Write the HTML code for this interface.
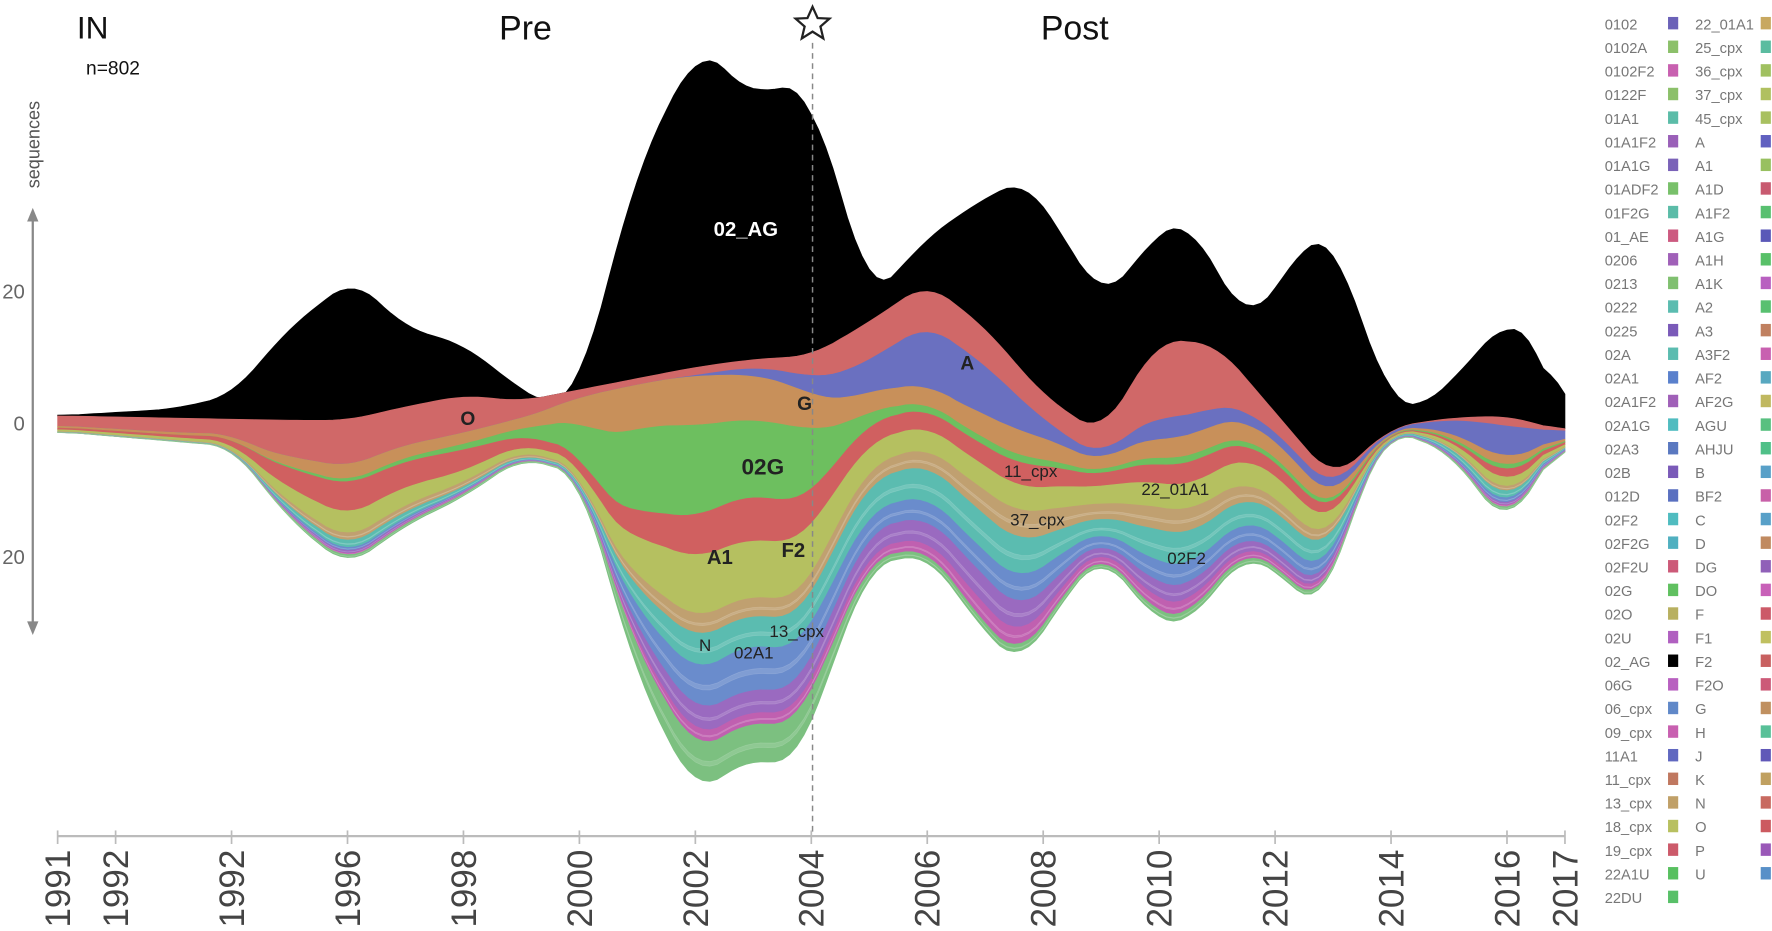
<!DOCTYPE html>
<html><head><meta charset="utf-8"><style>
html,body{margin:0;padding:0;background:#fff;}
svg{display:block;font-family:"Liberation Sans",sans-serif;}
</style></head><body>
<svg id="s" width="1772" height="931" viewBox="0 0 1568 824" preserveAspectRatio="none" xmlns="http://www.w3.org/2000/svg">
<g id="layers"></g>
<line x1="719" y1="38" x2="719" y2="740" stroke="#888" stroke-width="1.3" stroke-dasharray="5,4"/>
<polygon points="719,6 723.5,16 734,16.5 726,23.5 728.5,34 719,28 709.5,34 712,23.5 704,16.5 714.5,16" fill="none" stroke="#222" stroke-width="2"/>
<text x="82" y="34" font-size="28" text-anchor="middle" fill="#111">IN</text>
<text x="100" y="66" font-size="17" text-anchor="middle" fill="#111">n=802</text>
<text x="465" y="35" font-size="30" text-anchor="middle" fill="#111">Pre</text>
<text x="951" y="35" font-size="30" text-anchor="middle" fill="#111">Post</text>
<text transform="translate(35,128) rotate(-90)" font-size="16" text-anchor="middle" fill="#555">sequences</text>
<line x1="29" y1="192" x2="29" y2="553" stroke="#888" stroke-width="2"/>
<polygon points="29,184 24,196 34,196" fill="#888"/>
<polygon points="29,562 24,550 34,550" fill="#888"/>
<text x="22" y="264" font-size="18" text-anchor="end" fill="#666">20</text>
<text x="22" y="381" font-size="18" text-anchor="end" fill="#666">0</text>
<text x="22" y="499" font-size="18" text-anchor="end" fill="#666">20</text>
<line x1="51" y1="740" x2="1385" y2="740" stroke="#bbb" stroke-width="2"/>
<g id="ticks"></g>
<g id="labels" font-size="15" fill="#222" text-anchor="middle">
<text x="660" y="209" font-size="18" font-weight="bold" fill="#fff">02_AG</text>
<text x="414" y="376" font-size="17" font-weight="bold">O</text>
<text x="712" y="363" font-size="17" font-weight="bold">G</text>
<text x="675" y="420" font-size="20" font-weight="bold">02G</text>
<text x="856" y="327" font-size="17" font-weight="bold">A</text>
<text x="637" y="499" font-size="18" font-weight="bold">A1</text>
<text x="702" y="493" font-size="18" font-weight="bold">F2</text>
<text x="624" y="576">N</text>
<text x="667" y="583">02A1</text>
<text x="705" y="564">13_cpx</text>
<text x="912" y="422">11_cpx</text>
<text x="918" y="465">37_cpx</text>
<text x="1040" y="438">22_01A1</text>
<text x="1050" y="499">02F2</text>
</g>
<g id="legend" font-size="13" fill="#777"></g>
</svg>
<script>
const NS="http://www.w3.org/2000/svg";
const X=y=>51+(y-1991)*51.3;
function el(t,a,p,txt){const e=document.createElementNS(NS,t);for(const k in a)e.setAttribute(k,a[k]);if(txt!==undefined)e.textContent=txt;p.appendChild(e);return e;}
function interp(p,y){for(let i=0;i<p.length-1;i++){if(y<=p[i+1][0]){const t=(y-p[i][0])/(p[i+1][0]-p[i][0]);return p[i][1]+t*(p[i+1][1]-p[i][1]);}}return p[p.length-1][1];}
function smooth(a,n){for(let k=0;k<n;k++){const b=a.slice();for(let i=0;i<a.length;i++){let s=0,c=0;for(let j=-3;j<=3;j++){const q=i+j;if(q>=0&&q<a.length){s+=a[q];c++;}}b[i]=s/c;}a=b;}return a;}
const ys=[];for(let y=1991;y<=2017.0001;y+=0.125)ys.push(y);
const blackTop=[[1991,368],[1993,362],[1994,350],[1995,290],[1996.1,246],[1997,290],[1998,305],[1999,345],[1999.5,360],[2000,345],[2001,150],[2002,45],[2002.6,60],[2003,92],[2003.5,68],[2004,90],[2004.5,165],[2005,265],[2005.5,240],[2006,210],[2007,175],[2007.7,158],[2008.5,222],[2009,265],[2009.5,240],[2010,203],[2010.5,196],[2011,240],[2011.5,285],[2012,258],[2012.6,208],[2013,212],[2013.5,285],[2014,357],[2014.5,362],[2015,340],[2016,282],[2016.5,300],[2017,378]];
const Tp=[[1991,368],[1995,372],[1996,372],[1997,360],[1998,350],[1999,355],[2000,345],[2001,335],[2002,325],[2003,318],[2004,315],[2005,285],[2006,250],[2007,290],[2008,350],[2009,385],[2010,300],[2011,305],[2012,365],[2013,425],[2014,378],[2015,370],[2016,368],[2017,382]];
const Bp=[[1991,382],[1994,395],[1995,460],[1996,502],[1997,465],[1998,440],[1999,405],[2000,420],[2001,600],[2002,702],[2003,670],[2003.7,680],[2004,640],[2005,500],[2006,490],[2007,560],[2007.6,590],[2008.5,520],[2009,490],[2010,552],[2010.5,552],[2011,520],[2011.5,490],[2012,505],[2012.8,542],[2013.5,430],[2014,380],[2015,400],[2016,467],[2017,385]];
const BT=smooth(ys.map(y=>interp(blackTop,y)),1);
const T=smooth(ys.map(y=>interp(Tp,y)),1);
const B=smooth(ys.map(y=>interp(Bp,y)),1);
const layers=[
["#d06868",[0.6,0.6,0.6,0.5,0.35,0.3,0.3,0.35,0.3,0.05,0.02,0.02,0.02,0.05,0.2,0.2,0.15,0.1,0.2,0.35,0.3,0.1,0.1,0.05,0.05,0.1,0.1]],
["#6a70c0",[0,0,0,0,0,0,0,0,0,0,0,0,0.02,0.04,0.15,0.3,0.2,0.08,0.05,0.1,0.08,0.05,0.08,0.15,0.35,0.3,0.4]],
["#c8905a",[0.1,0.1,0.1,0.1,0.1,0.1,0.1,0.1,0.15,0.3,0.15,0.12,0.12,0.1,0.1,0.08,0.1,0.1,0.1,0.08,0.1,0.1,0.1,0.1,0.1,0.1,0.1]],
["#6dbf5f",[0,0,0,0,0.02,0.02,0.03,0.05,0.1,0.4,0.3,0.22,0.2,0.2,0.05,0.03,0.03,0.03,0.03,0.03,0.03,0.03,0.03,0.05,0.05,0.05,0.05]],
["#d06060",[0.1,0.1,0.1,0.15,0.2,0.2,0.2,0.2,0.15,0.1,0.1,0.1,0.12,0.1,0.1,0.08,0.08,0.1,0.1,0.08,0.1,0.08,0.08,0.08,0.05,0.1,0.1]],
["#b5c060",[0.1,0.1,0.1,0.1,0.15,0.15,0.15,0.1,0.1,0.08,0.15,0.15,0.15,0.15,0.12,0.1,0.1,0.1,0.15,0.1,0.12,0.15,0.12,0.1,0.1,0.1,0.1]],
["#c0a070",[0.03,0.03,0.03,0.03,0.05,0.05,0.05,0.05,0.05,0.02,0.05,0.05,0.05,0.05,0.08,0.08,0.1,0.12,0.12,0.1,0.1,0.08,0.08,0.05,0.05,0.05,0.05]],
["#5bbcb0",[0.02,0.02,0.02,0.02,0.05,0.05,0.05,0.03,0.03,0.02,0.08,0.08,0.08,0.08,0.15,0.15,0.15,0.15,0.12,0.15,0.12,0.15,0.15,0.1,0.1,0.08,0.05]],
["#6a8ccc",[0,0,0,0,0.02,0.02,0.02,0.01,0.01,0.01,0.08,0.1,0.12,0.1,0.1,0.1,0.1,0.12,0.08,0.1,0.08,0.1,0.1,0.05,0.05,0.05,0.05]],
["#9a6ac0",[0,0,0,0,0.02,0.02,0.02,0.01,0.01,0,0.06,0.06,0.06,0.06,0.1,0.1,0.12,0.1,0.06,0.08,0.06,0.06,0.06,0.02,0.03,0.03,0.03]],
["#c060b0",[0,0,0,0,0.01,0.01,0.01,0.01,0.01,0,0.03,0.03,0.03,0.03,0.05,0.05,0.08,0.06,0.05,0.06,0.04,0.04,0.04,0.02,0.02,0.02,0.02]],
["#7cc080",[0.01,0.01,0.01,0.01,0.02,0.02,0.02,0.02,0.02,0.01,0.1,0.1,0.1,0.1,0.03,0.03,0.03,0.03,0.03,0.03,0.03,0.03,0.03,0.03,0.03,0.03,0.03]]
];
const g=document.getElementById("layers");
function band(up,lo,col){let d="M"+ys.map((y,i)=>X(y).toFixed(1)+","+up[i].toFixed(1)).join("L");for(let i=ys.length-1;i>=0;i--)d+="L"+X(ys[i]).toFixed(1)+","+lo[i].toFixed(1);d+="Z";el("path",{d:d,fill:col,stroke:col,"stroke-width":"0.6"},g);}
band(BT,T,"#000");
const W=layers.map(l=>smooth(ys.map(y=>{const k=Math.min(25,Math.floor(y-1991));const t=y-1991-k;return l[1][k]+t*(l[1][k+1]-l[1][k]);}),2));
let cur=T.slice();
for(let j=0;j<layers.length;j++){const nxt=cur.map((v,i)=>{let s=0;for(const w of W)s+=w[i];return v+(B[i]-T[i])*W[j][i]/s;});band(cur,nxt,layers[j][0]);
 if(j>=6){const mid=cur.map((v,i)=>(v+nxt[i])/2);band(mid,mid.map((v,i)=>v+(nxt[i]-cur[i])*0.12),"rgba(255,255,255,0.15)");}
 cur=nxt;}
const tk=document.getElementById("ticks");
const yrs=[[1991,"1991"],[1992,"1992"],[1994,"1992"],[1996,"1996"],[1998,"1998"],[2000,"2000"],[2002,"2002"],[2004,"2004"],[2006,"2006"],[2008,"2008"],[2010,"2010"],[2012,"2012"],[2014,"2014"],[2016,"2016"],[2017,"2017"]];
for(const [y,t] of yrs){const x=X(y);el("line",{x1:x,y1:735,x2:x,y2:747,stroke:"#bbb","stroke-width":1.5},tk);el("text",{transform:`translate(${x+11},752) rotate(-90)`,"font-size":"31","text-anchor":"end",fill:"#444"},tk,t);}
const lg=document.getElementById("legend");
const c1=[["0102","#6b62b8"],["0102A","#8cc06a"],["0102F2","#c860b0"],["0122F","#8cc06a"],["01A1","#5bbca8"],["01A1F2","#9a60b8"],["01A1G","#7a62b8"],["01ADF2","#78c06a"],["01F2G","#5bbca8"],["01_AE","#cc5a80"],["0206","#a060b8"],["0213","#80c070"],["0222","#5bbcb0"],["0225","#7a5ab8"],["02A","#5bbcb0"],["02A1","#5a80cc"],["02A1F2","#a060b8"],["02A1G","#50bcc0"],["02A3","#5a78c0"],["02B","#7a5ab8"],["012D","#5a70c0"],["02F2","#50bcc0"],["02F2G","#50b0c0"],["02F2U","#cc5a78"],["02G","#60c060"],["02O","#b8b060"],["02U","#b060c0"],["02_AG","#000"],["06G","#b860c0"],["06_cpx","#6088c8"],["09_cpx","#c860b0"],["11A1","#6068c0"],["11_cpx","#c07860"],["13_cpx","#c0a068"],["18_cpx","#b8c060"],["19_cpx","#cc5a6a"],["22A1U","#58c060"],["22DU","#58c068"]];
const c2=[["22_01A1","#c8a860"],["25_cpx","#5bbca0"],["36_cpx","#a0c060"],["37_cpx","#b0c060"],["45_cpx","#a8c060"],["A","#6060c0"],["A1","#98c060"],["A1D","#c85a70"],["A1F2","#58c070"],["A1G","#5a58b8"],["A1H","#58c068"],["A1K","#b860c0"],["A2","#58c070"],["A3","#c08060"],["A3F2","#c860b0"],["AF2","#58a8c0"],["AF2G","#c0b860"],["AGU","#58c080"],["AHJU","#50c088"],["B","#58a0c8"],["BF2","#c860a8"],["C","#58a0c8"],["D","#c08a60"],["DG","#9060b8"],["DO","#c860b8"],["F","#cc5a68"],["F1","#c0c060"],["F2","#c86060"],["F2O","#cc5a78"],["G","#c09060"],["H","#58c098"],["J","#6058b8"],["K","#c0a060"],["N","#c86a60"],["O","#cc5a60"],["P","#9a58b8"],["U","#5890c8"]];
c1.forEach((r,i)=>{const y=21+i*20.9;el("text",{x:1420,y:y+5},lg,r[0]);el("rect",{x:1476,y:y-6,width:9,height:11,fill:r[1]},lg);});
c2.forEach((r,i)=>{const y=21+i*20.9;el("text",{x:1500,y:y+5},lg,r[0]);el("rect",{x:1558,y:y-6,width:9,height:11,fill:r[1]},lg);});
</script>
</body></html>
